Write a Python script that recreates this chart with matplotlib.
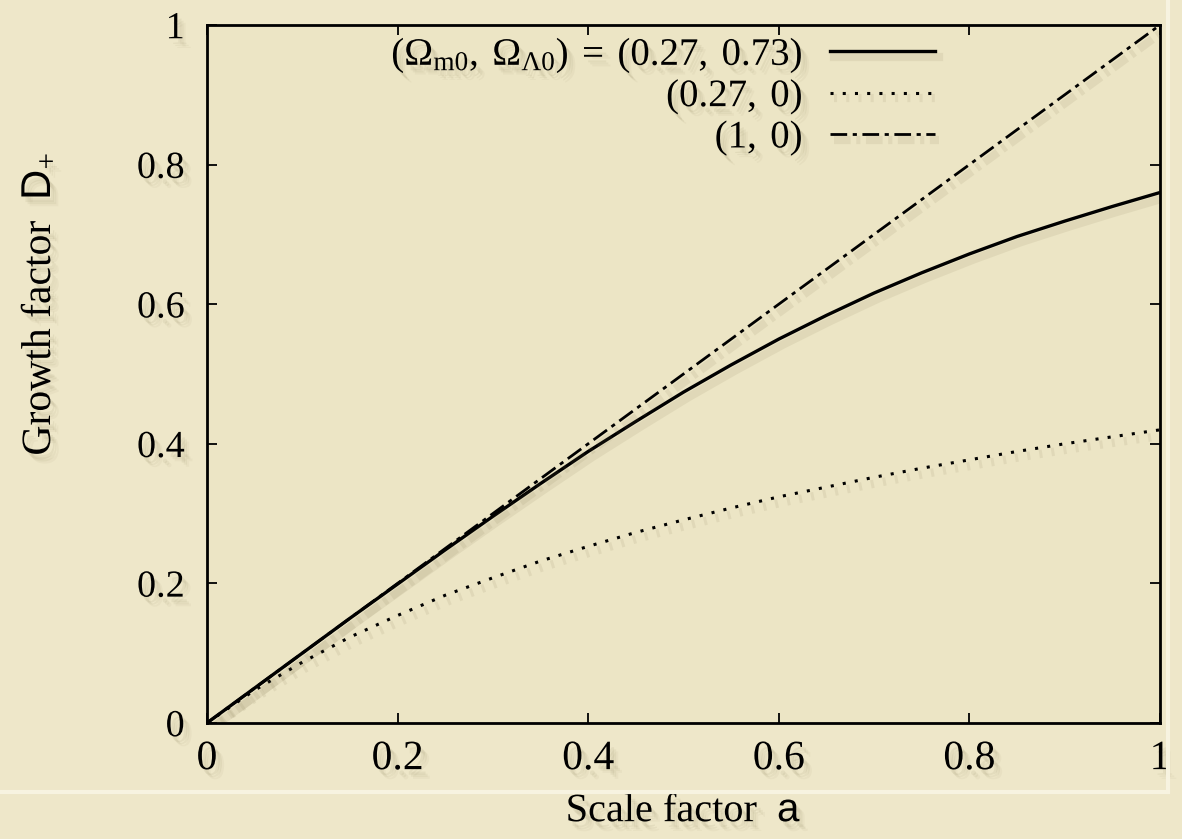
import matplotlib
matplotlib.use("Agg")
import matplotlib.pyplot as plt
from matplotlib.lines import Line2D
import matplotlib.patheffects as pe

# ---- data ----
a_vals = [0.0, 0.05, 0.10, 0.15, 0.20, 0.25, 0.30, 0.35, 0.40, 0.45, 0.50,
          0.55, 0.60, 0.65, 0.70, 0.75, 0.80, 0.85, 0.90, 0.95, 1.00]
d_lcdm = [0.0, 0.050, 0.100, 0.150, 0.199, 0.248, 0.296, 0.343, 0.389, 0.432, 0.474,
          0.513, 0.550, 0.584, 0.616, 0.645, 0.672, 0.697, 0.719, 0.740, 0.760]
d_open = [0.0, 0.047, 0.087, 0.123, 0.154, 0.183, 0.208, 0.232, 0.253, 0.273, 0.291,
          0.308, 0.324, 0.338, 0.352, 0.365, 0.377, 0.389, 0.400, 0.410, 0.420]
d_eds = [0.0, 0.05, 0.10, 0.15, 0.20, 0.25, 0.30, 0.35, 0.40, 0.45, 0.50,
         0.55, 0.60, 0.65, 0.70, 0.75, 0.80, 0.85, 0.90, 0.95, 1.00]
labels = [r"$(\Omega_{\rm m0},\; \Omega_{\Lambda0})\; =\; (0.27,\; 0.73)$",
          r"$(0.27,\; 0)$",
          r"$(1,\; 0)$"]
xticks = [0, 0.2, 0.4, 0.6, 0.8, 1]
xticklabels = ["0", "0.2", "0.4", "0.6", "0.8", "1"]
yticks = [0, 0.2, 0.4, 0.6, 0.8, 1]
yticklabels = ["0", "0.2", "0.4", "0.6", "0.8", "1"]

plt.rcParams['font.family'] = ['Liberation Serif', 'DejaVu Serif']
plt.rcParams['mathtext.fontset'] = 'custom'
plt.rcParams['mathtext.rm'] = 'Liberation Serif'
plt.rcParams['mathtext.it'] = 'Liberation Serif:italic'
plt.rcParams['mathtext.bf'] = 'Liberation Serif:bold'
plt.rcParams['mathtext.sf'] = 'Liberation Sans'

BG = '#EEE7C9'
fig = plt.figure(figsize=(11.82, 8.39), dpi=100, facecolor=BG)
ax = fig.add_axes([0.1751, 0.1383, 0.9814 - 0.1751, 0.9702 - 0.1383])
ax.set_facecolor('#ECE5C5')

line_shadow = [pe.SimpleLineShadow(offset=(3, -4), shadow_color='#7a6e48',
                                   alpha=0.10, linewidth=6),
               pe.Normal()]

ax.plot(a_vals, d_lcdm, color='black', lw=2.4, ls='-', label=labels[0],
        path_effects=line_shadow)
ax.plot(a_vals, d_open, color='black', lw=2.2, ls=(0, (1, 3)), label=labels[1],
        path_effects=line_shadow)
ax.plot(a_vals, d_eds, color='black', lw=2.0, ls=(0, (6, 2, 1.5, 2)), label=labels[2],
        path_effects=line_shadow)

shadow = [pe.SimplePatchShadow(offset=(3, -4), shadow_rgbFace='#7a6e48', alpha=0.09),
          pe.SimplePatchShadow(offset=(4.5, -5.5), shadow_rgbFace='#7a6e48', alpha=0.07),
          pe.SimplePatchShadow(offset=(6, -7), shadow_rgbFace='#7a6e48', alpha=0.05),
          pe.Normal()]

ax.set_xlim(0, 1)
ax.set_ylim(0, 1)
ax.set_xticks(xticks)
ax.set_xticklabels(xticklabels, fontsize=30, path_effects=shadow)
ax.set_yticks(yticks)
ax.set_yticklabels(yticklabels, fontsize=27.5, path_effects=shadow)
ax.tick_params(direction='in', length=7.5, width=1.3, top=True, right=True,
               colors='black')
ax.tick_params(axis='y', pad=16)
ax.tick_params(axis='x', pad=12)
for s in ax.spines.values():
    s.set_linewidth(2.0)

ax.set_xlabel(r"Scale factor  $\mathsf{a}$", fontsize=29, labelpad=11,
              path_effects=shadow)
ax.set_ylabel(r"Growth factor  $\mathsf{D}_{+}$", fontsize=30,
              path_effects=shadow)
ax.yaxis.set_label_coords(-0.155, 0.6)

leg = ax.legend(loc='upper right', bbox_to_anchor=(0.764, 0.985),
                markerfirst=False, frameon=False, fontsize=28,
                handlelength=2.7, handletextpad=0.7, labelspacing=0.03,
                borderaxespad=0, borderpad=0)
for t in leg.get_texts():
    t.set_path_effects(shadow)

# paper-frame highlight lines
fig.add_artist(Line2D([0, 1168 / 1182], [1 - 792 / 839, 1 - 792 / 839],
                      transform=fig.transFigure, color='#F7F3E0', lw=3))
fig.add_artist(Line2D([1168 / 1182, 1168 / 1182], [1 - 792 / 839, 1],
                      transform=fig.transFigure, color='#F7F3E0', lw=3))

fig.savefig('out.png', dpi=100, facecolor=BG)
